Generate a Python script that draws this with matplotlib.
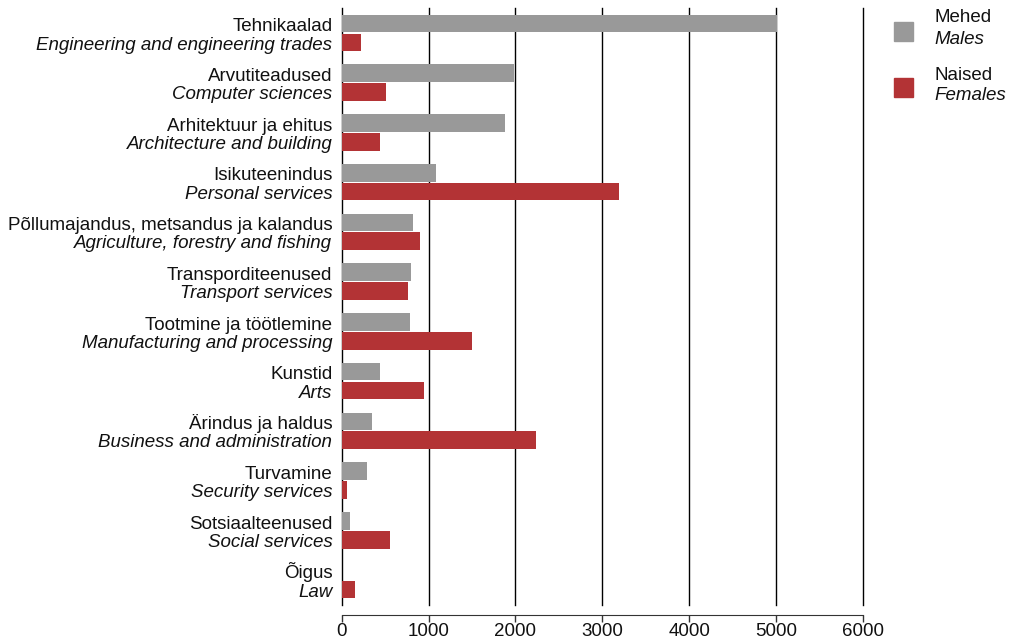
import matplotlib
matplotlib.use("Agg")
import matplotlib.pyplot as plt
from matplotlib.patches import Rectangle
from matplotlib.transforms import blended_transform_factory

plt.rcParams['font.family'] = ['Liberation Sans', 'DejaVu Sans']

labels_et = ["Tehnikaalad", "Arvutiteadused", "Arhitektuur ja ehitus", "Isikuteenindus",
             "Põllumajandus, metsandus ja kalandus", "Transporditeenused",
             "Tootmine ja töötlemine", "Kunstid", "Ärindus ja haldus", "Turvamine",
             "Sotsiaalteenused", "Õigus"]
labels_en = ["Engineering and engineering trades", "Computer sciences",
             "Architecture and building", "Personal services",
             "Agriculture, forestry and fishing", "Transport services",
             "Manufacturing and processing", "Arts", "Business and administration",
             "Security services", "Social services", "Law"]
males = [5010, 1985, 1880, 1085, 818, 795, 785, 445, 350, 290, 97, 0]
females = [222, 507, 442, 3192, 900, 760, 1505, 952, 2240, 62, 555, 153]
xticks = [0, 1000, 2000, 3000, 4000, 5000, 6000]

c_m = "#999999"
c_f = "#B33335"
FS = 13.5

fig = plt.figure(figsize=(10.10, 6.41), dpi=100)
ax = fig.add_axes([0.3383, 0.0562, 0.8545 - 0.3383, 0.9875 - 0.0562])

y = list(range(len(labels_et)))
h = 0.355
off = 0.19
ax.barh([v - off for v in y], males, height=h, color=c_m, zorder=3)
ax.barh([v + off for v in y], females, height=h, color=c_f, zorder=3)

ax.set_xlim(0, 6000)
ax.set_ylim(11.5, -0.5)
for s in ["top", "right", "left"]:
    ax.spines[s].set_visible(False)
ax.spines["bottom"].set_position(("outward", 7))
ax.spines["bottom"].set_color("#333333")
ax.set_xticks(xticks)
ax.set_xticklabels([str(t) for t in xticks])
ax.tick_params(axis="x", length=5, width=1, direction="out", pad=1,
               labelsize=FS, color="#333333", labelcolor="#111111")
for t in xticks:
    ax.axvline(t, color="black", lw=1.0, zorder=1, clip_on=False)
ax.set_yticks([])

tr = blended_transform_factory(ax.transAxes, ax.transData)
for i, (et, en) in enumerate(zip(labels_et, labels_en)):
    ax.text(-0.018, i - 0.034, et, transform=tr, ha="right", va="baseline", fontsize=FS,
            color="#111111")
    ax.text(-0.018, i + 0.334, en, transform=tr, ha="right", va="baseline", fontsize=FS,
            style="italic", color="#111111")

W, H = 1010, 641
def fx(px):
    return px / W
def fy(py):
    return 1 - py / H

fig.add_artist(Rectangle((fx(894), fy(40.7)), 18.7 / W, 18.4 / H, transform=fig.transFigure,
                         color=c_m))
fig.add_artist(Rectangle((fx(894), fy(96.7)), 18.7 / W, 18.4 / H, transform=fig.transFigure,
                         color=c_f))
fig.text(fx(934), fy(22.3), "Mehed", ha="left", va="baseline", fontsize=FS, color="#111111")
fig.text(fx(934), fy(44.3), "Males", ha="left", va="baseline", fontsize=FS, style="italic",
         color="#111111")
fig.text(fx(934), fy(80), "Naised", ha="left", va="baseline", fontsize=FS, color="#111111")
fig.text(fx(934), fy(100), "Females", ha="left", va="baseline", fontsize=FS, style="italic",
         color="#111111")

fig.savefig("out.png", dpi=100, facecolor="white")
